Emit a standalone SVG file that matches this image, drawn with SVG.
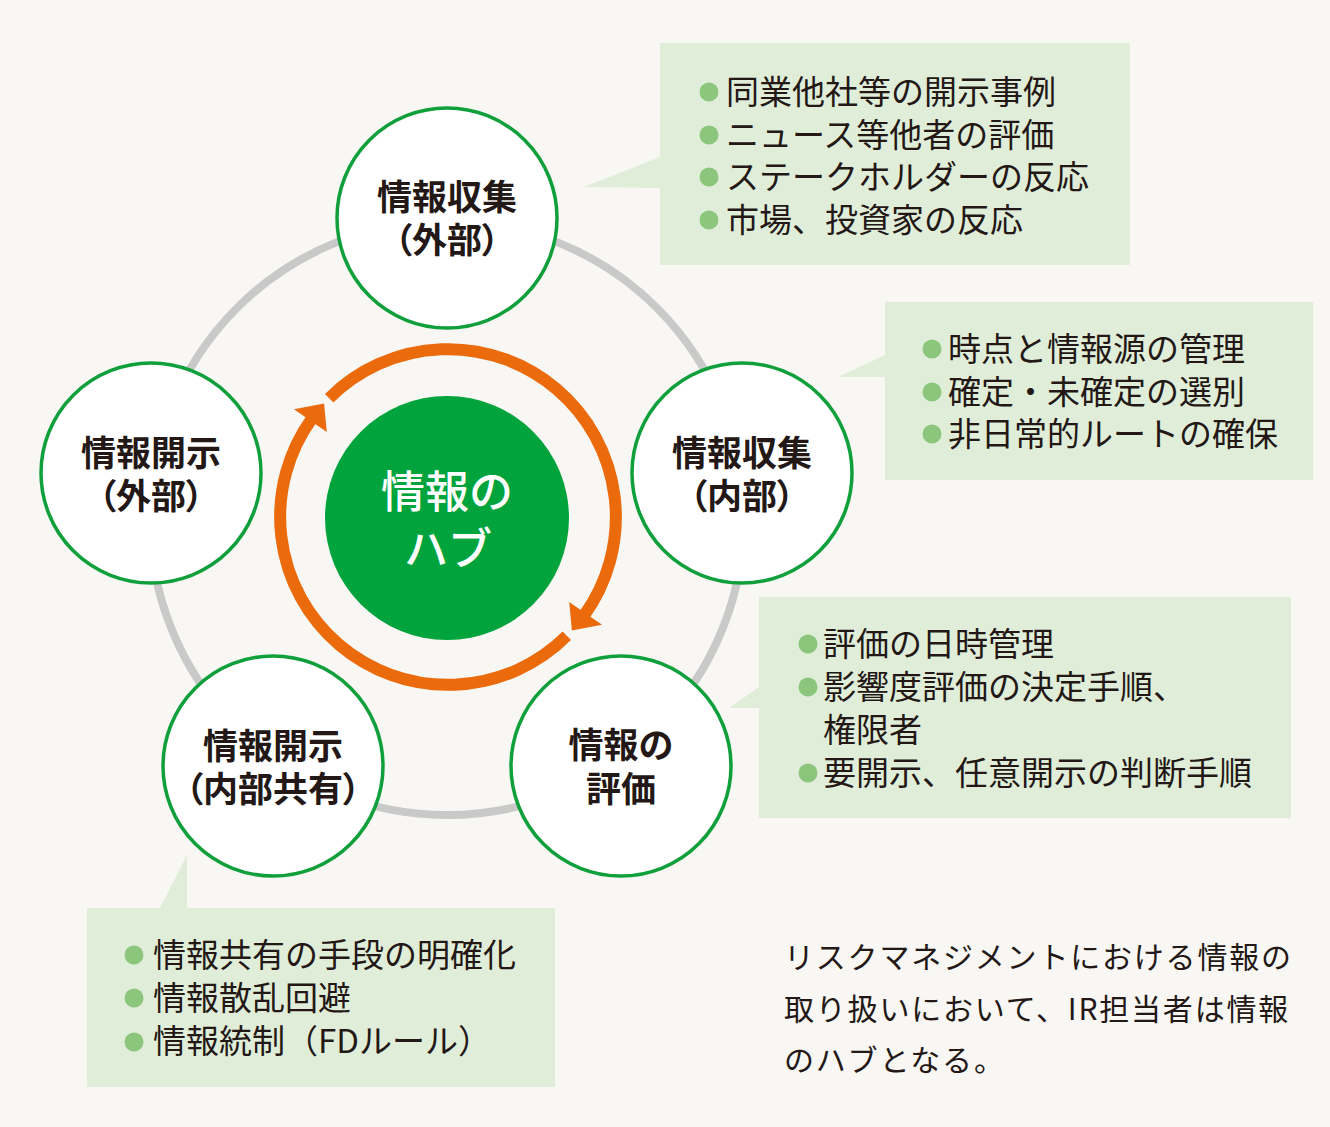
<svg xmlns="http://www.w3.org/2000/svg" width="1330" height="1127" viewBox="0 0 1330 1127">
<style>
.bg{fill:#f8f7f3}
.ring{fill:none;stroke:#c9c9c9;stroke-width:8}
.node{fill:#ffffff;stroke:#0f9f3b;stroke-width:3.5}
.nt{font-family:"Noto Sans CJK JP","Noto Sans",sans-serif;font-weight:700;font-size:35px;fill:#231815;text-anchor:middle}
.palt{font-feature-settings:"palt"}
.ct{font-family:"Noto Sans CJK JP","Noto Sans",sans-serif;font-weight:500;font-size:44px;fill:#ffffff;text-anchor:middle}
.box{fill:#e0eed9}
.dot{fill:#8cc57c}
.lt{font-family:"Noto Sans CJK JP","Noto Sans",sans-serif;font-weight:400;font-size:33px;fill:#231815}
.desc{font-family:"Noto Sans CJK JP","Noto Sans",sans-serif;font-weight:400;font-size:30px;fill:#231815;letter-spacing:1.8px}
.arc{fill:none;stroke:#eb6a0b;stroke-width:12}
.head{fill:#eb6a0b}
</style>
<rect class="bg" x="0" y="0" width="1330" height="1127"/>

<g id="connectors">
  <circle class="ring" cx="447" cy="518" r="297"/>
  <path class="arc" d="M 329.2 398.2 A 168 168 0 0 1 583.9 615.7"/>
  <polygon class="head" points="569.2,601.9 602.0,624.8 571.9,630.5"/>
  <path class="arc" d="M 566.8 635.8 A 168 168 0 0 1 312.1 418.3"/>
  <polygon class="head" points="326.8,432.1 294.0,409.2 324.1,403.5"/>
</g>

<g id="callout-top">
  <polygon class="box" points="660,157 584,187 660,188"/>
  <rect class="box" x="660" y="43" width="470" height="222"/>
  <circle class="dot" cx="709" cy="92" r="9.5"/>
  <circle class="dot" cx="709" cy="135" r="9.5"/>
  <circle class="dot" cx="709" cy="177" r="9.5"/>
  <circle class="dot" cx="709" cy="220" r="9.5"/>
  <text class="lt"><tspan x="726" y="104">同業他社等の開示事例</tspan><tspan x="726" y="147">ニュース等他者の評価</tspan><tspan x="726" y="189">ステークホルダーの反応</tspan><tspan x="726" y="232">市場、投資家の反応</tspan></text>
</g>

<g id="callout-right">
  <polygon class="box" points="885,355 838,377 885,377"/>
  <rect class="box" x="885" y="302" width="428" height="178"/>
  <circle class="dot" cx="932" cy="349" r="9.5"/>
  <circle class="dot" cx="932" cy="392" r="9.5"/>
  <circle class="dot" cx="932" cy="434" r="9.5"/>
  <text class="lt"><tspan x="948" y="361">時点と情報源の管理</tspan><tspan x="948" y="404">確定・未確定の選別</tspan><tspan x="948" y="446">非日常的ルートの確保</tspan></text>
</g>

<g id="callout-eval">
  <polygon class="box" points="759,687 729,708 759,708"/>
  <rect class="box" x="759" y="597" width="532" height="221"/>
  <circle class="dot" cx="808" cy="644" r="9.5"/>
  <circle class="dot" cx="808" cy="687" r="9.5"/>
  <circle class="dot" cx="808" cy="773" r="9.5"/>
  <text class="lt"><tspan x="823" y="656">評価の日時管理</tspan><tspan x="823" y="699">影響度評価の決定手順、</tspan><tspan x="823" y="742">権限者</tspan><tspan x="823" y="785">要開示、任意開示の判断手順</tspan></text>
</g>

<g id="callout-share">
  <polygon class="box" points="160,908 187,855 187,908"/>
  <rect class="box" x="87" y="908" width="468" height="179"/>
  <circle class="dot" cx="134" cy="955" r="9.5"/>
  <circle class="dot" cx="134" cy="998" r="9.5"/>
  <circle class="dot" cx="134" cy="1042" r="9.5"/>
  <text class="lt"><tspan x="153" y="967">情報共有の手段の明確化</tspan><tspan x="153" y="1010">情報散乱回避</tspan><tspan x="153" y="1053">情報統制（FDルール）</tspan></text>
</g>

<g id="node-hub">
  <circle cx="447" cy="518" r="122" fill="#00a33c"/>
  <text class="ct"><tspan x="447" y="508">情報の</tspan><tspan x="448" y="565">ハブ</tspan></text>
</g>

<g id="node-collect-ext">
  <circle class="node" cx="447" cy="218" r="110"/>
  <text class="nt"><tspan x="447" y="210">情報収集</tspan><tspan class="palt" x="447" y="253">（外部）</tspan></text>
</g>

<g id="node-collect-int">
  <circle class="node" cx="742" cy="473" r="110"/>
  <text class="nt"><tspan x="742" y="466">情報収集</tspan><tspan class="palt" x="742" y="509">（内部）</tspan></text>
</g>

<g id="node-evaluate">
  <circle class="node" cx="621" cy="766" r="110"/>
  <text class="nt"><tspan x="621" y="758">情報の</tspan><tspan x="621" y="802">評価</tspan></text>
</g>

<g id="node-disclose-int">
  <circle class="node" cx="273" cy="766" r="110"/>
  <text class="nt"><tspan x="273" y="759">情報開示</tspan><tspan class="palt" x="273" y="802">（内部共有）</tspan></text>
</g>

<g id="node-disclose-ext">
  <circle class="node" cx="151" cy="473" r="110"/>
  <text class="nt"><tspan x="151" y="466">情報開示</tspan><tspan class="palt" x="151" y="509">（外部）</tspan></text>
</g>

<g id="description">
  <text class="desc"><tspan x="784" y="968">リスクマネジメントにおける情報の</tspan><tspan x="784" y="1020">取り扱いにおいて、IR担当者は情報</tspan><tspan x="784" y="1071">のハブとなる。</tspan></text>
</g>
</svg>
